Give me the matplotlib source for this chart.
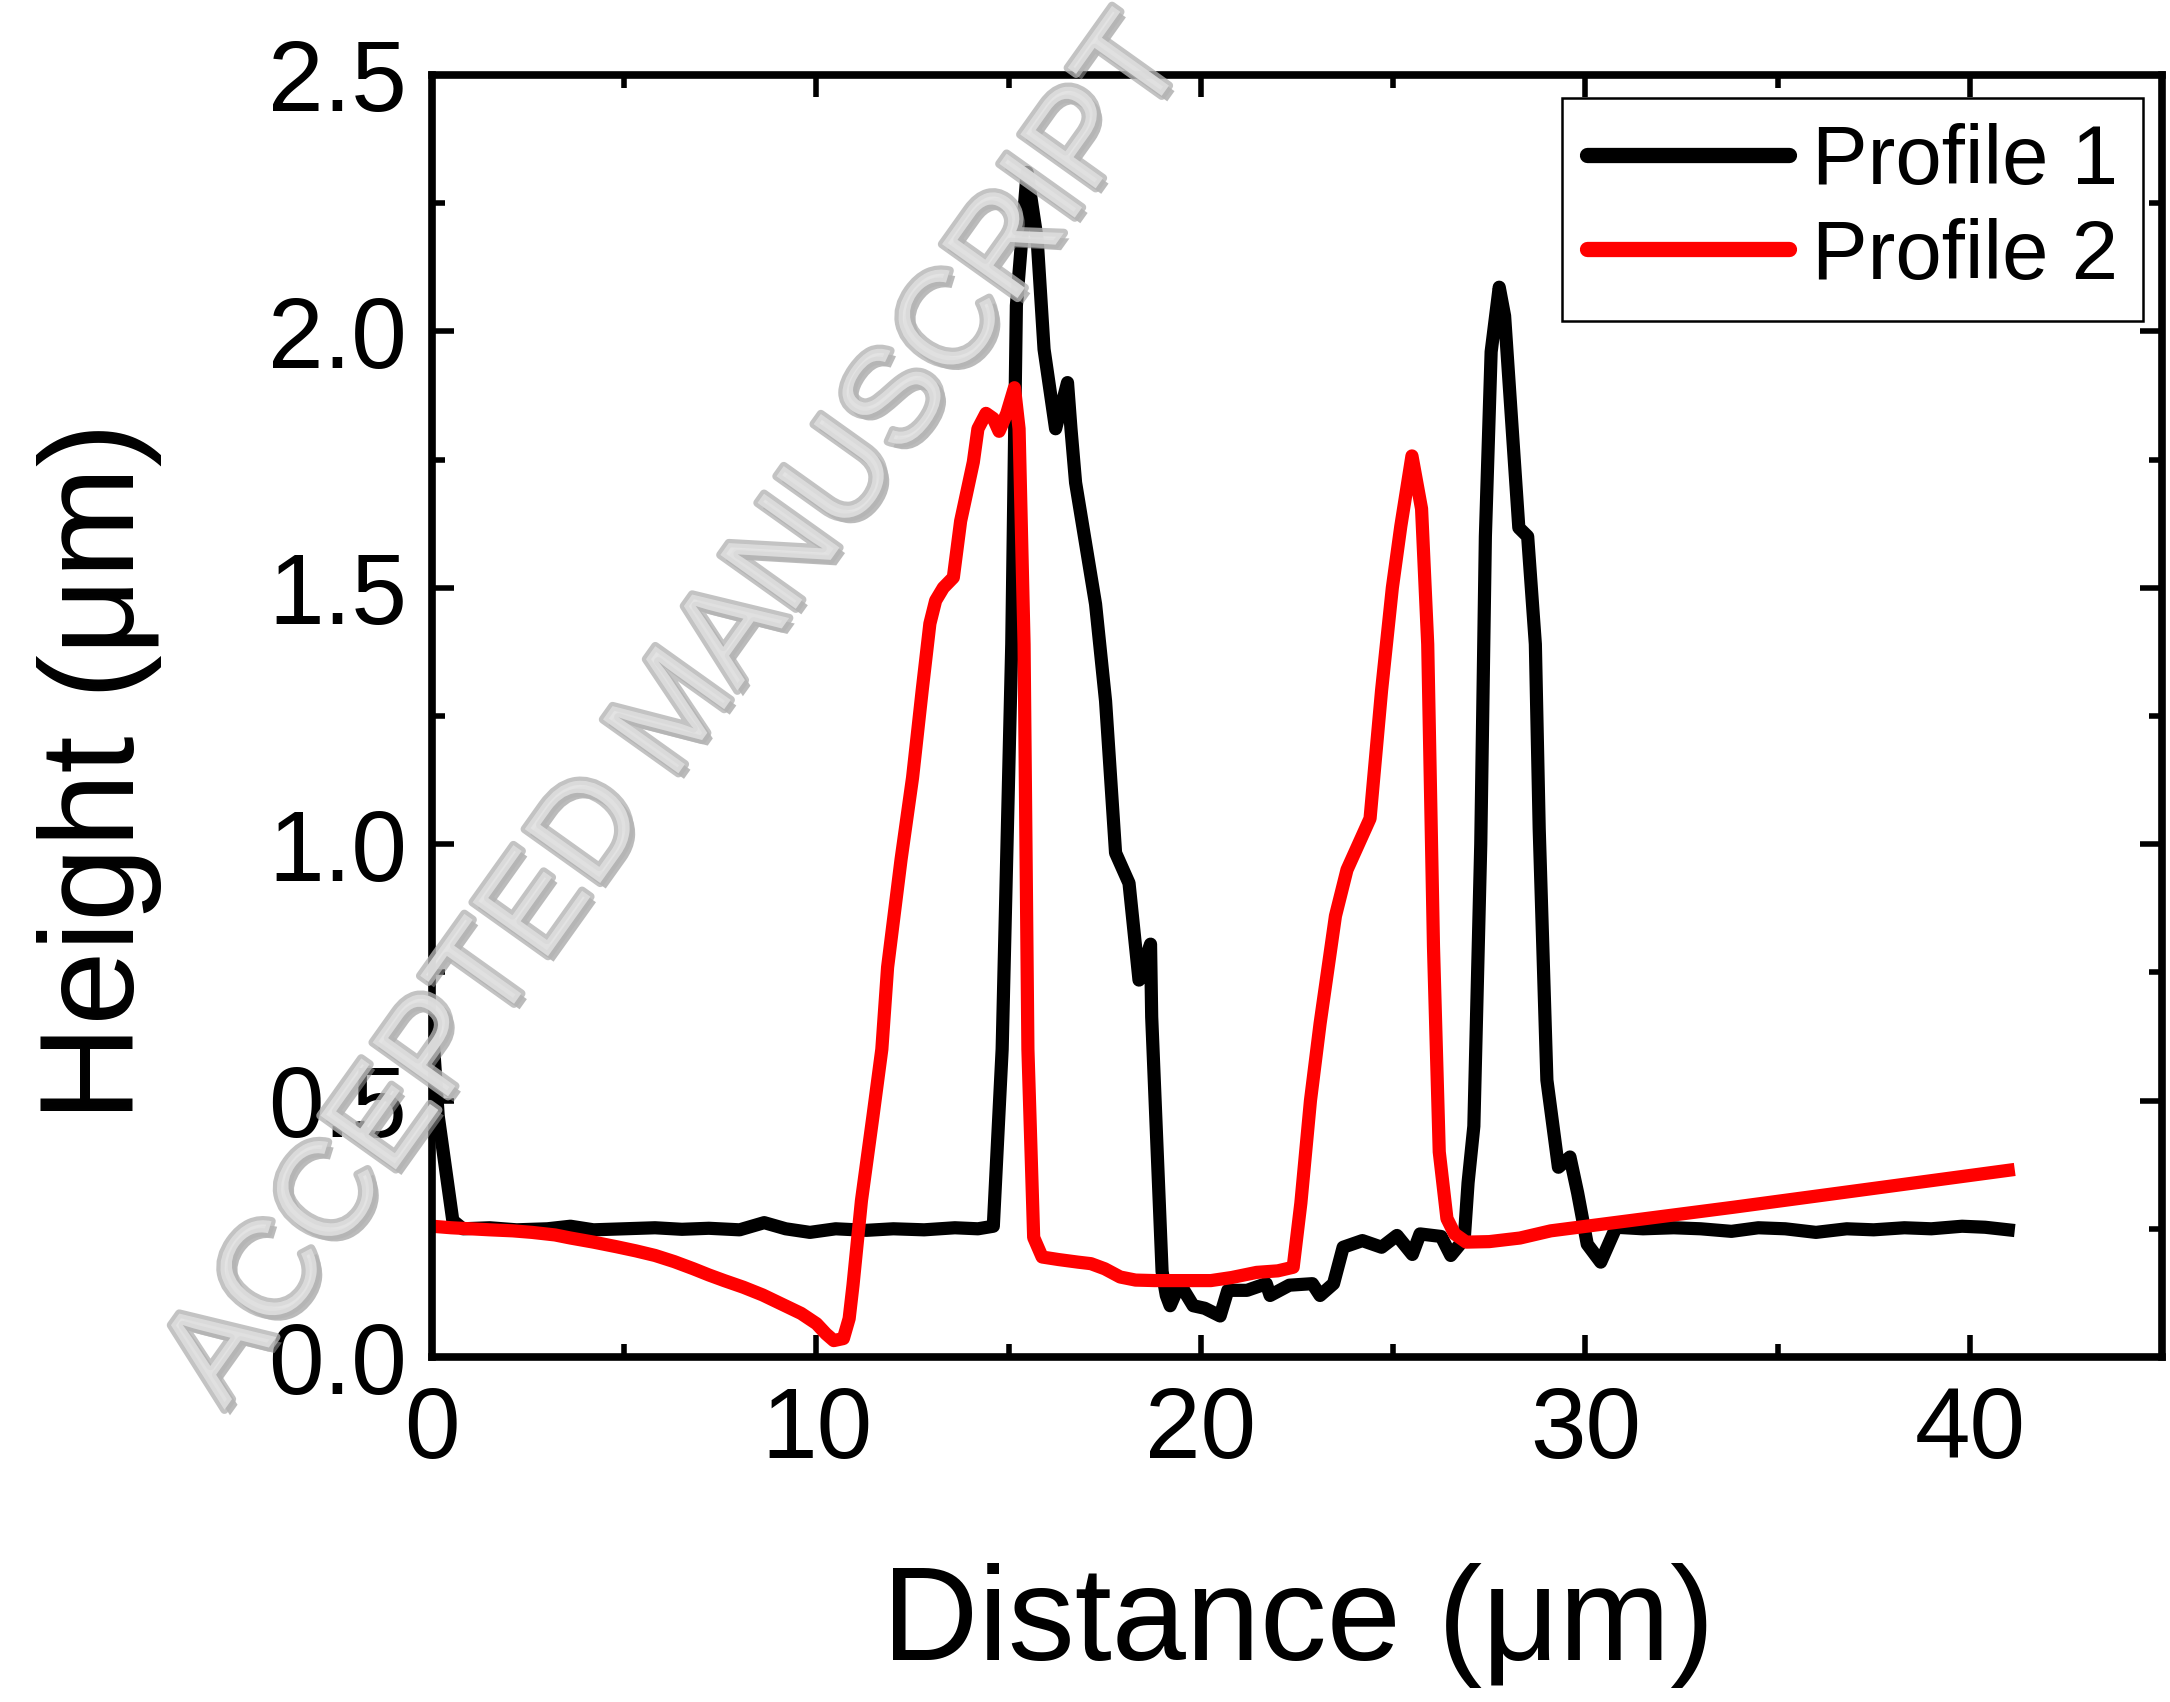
import matplotlib
matplotlib.use('Agg')
import matplotlib.pyplot as plt
import matplotlib.patheffects as pe
from matplotlib.ticker import MultipleLocator

plt.rcParams['font.family'] = ['Liberation Sans', 'DejaVu Sans']

# profile 1 (black)
p1_x = [0.0, 0.16, 0.54, 0.8, 1.5, 2.2, 3.0, 3.6, 4.2, 5.0, 5.8, 6.5, 7.2, 8.0, 8.64, 9.2, 9.83,
        10.5, 11.3, 12.0, 12.8, 13.6, 14.2, 14.6, 14.83, 15.08, 15.2, 15.48, 15.74, 15.92, 16.22,
        16.53, 16.62, 16.74, 17.26, 17.52, 17.78, 18.13, 18.39, 18.69, 18.72, 18.99, 19.1, 19.2,
        19.45, 19.8, 20.1, 20.5, 20.7, 21.2, 21.7, 21.8, 22.3, 22.9, 23.1, 23.45, 23.7, 24.2, 24.7,
        25.1, 25.5, 25.7, 26.25, 26.5, 26.85, 26.95, 27.1, 27.28, 27.4, 27.55, 27.76, 27.9, 28.27,
        28.5, 28.7, 28.8, 29.0, 29.3, 29.6, 29.8, 30.05, 30.4, 30.8, 31.5, 32.3, 33.0, 33.8, 34.5,
        35.2, 36.0, 36.8, 37.5, 38.3, 39.0, 39.8, 40.4, 41.0]
p1_y = [0.65, 0.47, 0.266, 0.25, 0.252, 0.248, 0.25, 0.255, 0.248, 0.25, 0.252, 0.249, 0.251,
        0.248, 0.262, 0.25, 0.243, 0.25, 0.247, 0.25, 0.248, 0.252, 0.25, 0.255, 0.60, 1.39, 2.05,
        2.31, 2.18, 1.965, 1.81, 1.90, 1.81, 1.705, 1.468, 1.279, 0.983, 0.924, 0.735, 0.805, 0.663,
        0.167, 0.12, 0.10, 0.143, 0.10, 0.095, 0.08, 0.13, 0.13, 0.143, 0.12, 0.14, 0.143, 0.12,
        0.143, 0.214, 0.227, 0.214, 0.237, 0.20, 0.24, 0.235, 0.198, 0.23, 0.34, 0.45, 1.0, 1.6,
        1.96, 2.086, 2.03, 1.617, 1.60, 1.39, 1.03, 0.54, 0.37, 0.39, 0.32, 0.22, 0.185, 0.253,
        0.25, 0.252, 0.25, 0.245, 0.252, 0.25, 0.243, 0.25, 0.248, 0.252, 0.25, 0.255, 0.253, 0.248]

# profile 2 (red)
p2_x = [0.0, 0.5, 1.0, 1.5, 2.1, 2.6, 3.2, 3.6, 4.2, 4.8, 5.3, 5.8, 6.3, 6.8, 7.2, 7.6, 8.1, 8.6,
        9.1, 9.6, 10.0, 10.25, 10.45, 10.7, 10.85, 10.95, 11.17, 11.47, 11.7, 11.85, 12.2, 12.5,
        12.75, 12.95, 13.1, 13.3, 13.56, 13.75, 14.08, 14.2, 14.41, 14.6, 14.75, 14.95, 15.15,
        15.27, 15.4, 15.5, 15.65, 15.87, 16.3, 16.8, 17.14, 17.5, 17.9, 18.3, 18.8, 19.5, 20.26,
        20.8, 21.45, 22.0, 22.4, 22.6, 22.85, 23.1, 23.5, 23.8, 24.1, 24.4, 24.7, 24.98, 25.2,
        25.49, 25.74, 25.9, 26.05, 26.2, 26.4, 26.6, 26.9, 27.5, 28.3, 29.1, 33.85, 41.0]
p2_y = [0.255, 0.252, 0.25, 0.248, 0.246, 0.243, 0.238, 0.232, 0.224, 0.215, 0.207, 0.198, 0.186,
        0.172, 0.16, 0.149, 0.136, 0.121, 0.103, 0.085, 0.065, 0.045, 0.032, 0.036, 0.075, 0.14,
        0.305, 0.47, 0.60, 0.76, 0.97, 1.13, 1.30, 1.43, 1.475, 1.50, 1.52, 1.63, 1.745, 1.81, 1.84,
        1.83, 1.805, 1.84, 1.89, 1.81, 1.39, 0.60, 0.233, 0.195, 0.19, 0.185, 0.182, 0.172, 0.156,
        0.15, 0.149, 0.149, 0.149, 0.155, 0.165, 0.168, 0.175, 0.30, 0.50, 0.65, 0.86, 0.95, 1.0,
        1.05, 1.30, 1.50, 1.62, 1.757, 1.654, 1.39, 0.80, 0.40, 0.27, 0.24, 0.224, 0.225, 0.232,
        0.246, 0.292, 0.364]

labels = ['Profile 1', 'Profile 2']

fig = plt.figure(figsize=(21.7, 17.02), dpi=100)
ax = fig.add_axes([0.1991, 0.2027, 0.7972, 0.7533])

ax.plot(p1_x, p1_y, color='black', lw=9.5, label=labels[0], solid_joinstyle='round')
ax.plot(p2_x, p2_y, color='#ff0000', lw=9.5, label=labels[1], solid_joinstyle='round')

ax.set_xlim(0, 45)
ax.set_ylim(0, 2.5)
ax.xaxis.set_major_locator(MultipleLocator(10))
ax.xaxis.set_minor_locator(MultipleLocator(5))
ax.yaxis.set_major_locator(MultipleLocator(0.5))
ax.yaxis.set_minor_locator(MultipleLocator(0.25))
ax.yaxis.set_major_formatter(matplotlib.ticker.FormatStrFormatter('%.1f'))

for s in ax.spines.values():
    s.set_linewidth(5.5)
ax.tick_params(which='both', direction='in', top=True, right=True, width=4)
ax.tick_params(which='major', length=16, labelsize=72)
ax.tick_params(which='minor', length=9.5)
ax.tick_params(axis='x', which='major', pad=20)
ax.tick_params(axis='y', which='major', pad=18)

fig.text(0.5985, 0.045, 'Distance (\u03bcm)', fontsize=96, ha='center', va='center')
fig.text(0.046, 0.547, 'Height (\u03bcm)', fontsize=96, ha='center', va='center', rotation=90)

leg = ax.legend(loc='upper right', bbox_to_anchor=(0.989, 0.982), borderaxespad=0,
                fontsize=60, handlelength=2.43, handletextpad=0.27, labelspacing=0.2,
                borderpad=0.3, fancybox=False, edgecolor='black', framealpha=1)
leg.get_frame().set_linewidth(1.8)
for h in leg.get_lines():
    h.set_linewidth(11)
    h.set_solid_capstyle('round')

# watermark from the journal
fig.text(0.3126, 0.581, 'ACCEPTED MANUSCRIPT', rotation=54.5, ha='center', va='center',
         fontsize=97, color='#e2e2e2', alpha=0.8, zorder=10,
         path_effects=[pe.SimplePatchShadow(offset=(4, -4), shadow_rgbFace='#8f8f8f', alpha=0.6),
                       pe.Stroke(linewidth=6, foreground='#b4b4b4'), pe.Normal()])

fig.savefig('out.png', dpi=100)
